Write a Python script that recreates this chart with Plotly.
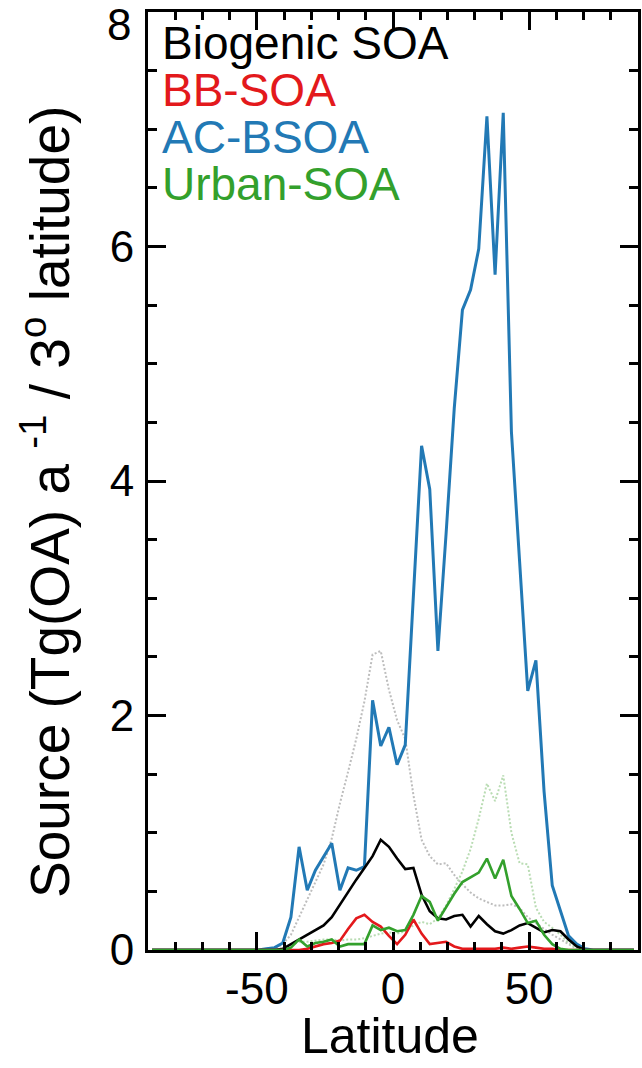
import plotly.graph_objects as go

# Latitude band centres (3 degree bands)
lat = [-88.5, -85.5, -82.5, -79.5, -76.5, -73.5, -70.5, -67.5, -64.5, -61.5,
       -58.5, -55.5, -52.5, -49.5, -46.5, -43.5, -40.5, -37.5, -34.5, -31.5,
       -28.5, -25.5, -22.5, -19.5, -16.5, -13.5, -10.5, -7.5, -4.5, -1.5,
       1.5, 4.5, 7.5, 10.5, 13.5, 16.5, 19.5, 22.5, 25.5, 28.5,
       31.5, 34.5, 37.5, 40.5, 43.5, 46.5, 49.5, 52.5, 55.5, 58.5,
       61.5, 64.5, 67.5, 70.5, 73.5, 76.5, 79.5, 82.5, 85.5, 88.5]

biogenic = [0, 0, 0, 0, 0, 0, 0, 0, 0, 0,
            0, 0, 0, 0, 0, 0.0, 0.01, 0.05, 0.09, 0.13,
            0.17, 0.21, 0.28, 0.39, 0.50, 0.60, 0.70, 0.80, 0.94, 0.88,
            0.78, 0.69, 0.70, 0.47, 0.33, 0.27, 0.26, 0.29, 0.30, 0.20,
            0.29, 0.22, 0.16, 0.14, 0.17, 0.21, 0.23, 0.19, 0.15, 0.17,
            0.16, 0.09, 0.03, 0.0, 0, 0, 0, 0, 0, 0]

bb_soa = [0, 0, 0, 0, 0, 0, 0, 0, 0, 0,
          0, 0, 0, 0, 0, 0, 0, 0.0, 0.0, 0.01,
          0.03, 0.05, 0.06, 0.08, 0.18, 0.27, 0.30, 0.24, 0.20, 0.12,
          0.05, 0.13, 0.26, 0.14, 0.05, 0.06, 0.07, 0.03, 0.01, 0.01,
          0.01, 0.01, 0.01, 0.02, 0.01, 0.02, 0.03, 0.02, 0.01, 0.01,
          0.0, 0, 0, 0, 0, 0, 0, 0, 0, 0]

ac_bsoa = [0, 0, 0, 0, 0, 0, 0, 0, 0, 0,
           0, 0, 0, 0.0, 0.01, 0.02, 0.06, 0.28, 0.88, 0.51,
           0.68, 0.80, 0.91, 0.51, 0.70, 0.68, 0.71, 2.13, 1.74, 1.90,
           1.58, 1.75, 3.0, 4.30, 3.93, 2.55, 3.55, 4.62, 5.46, 5.63,
           5.98, 7.11, 5.76, 7.14, 4.42, 3.3, 2.21, 2.47, 1.35, 0.55,
           0.33, 0.12, 0.05, 0.01, 0, 0, 0, 0, 0, 0]

urban_soa = [0, 0, 0, 0, 0, 0, 0, 0, 0, 0,
             0, 0, 0, 0, 0, 0, 0.0, 0.02, 0.09, 0.03,
             0.06, 0.07, 0.09, 0.03, 0.05, 0.05, 0.05, 0.21, 0.17, 0.19,
             0.16, 0.17, 0.30, 0.46, 0.41, 0.25, 0.37, 0.48, 0.58, 0.62,
             0.66, 0.78, 0.61, 0.77, 0.46, 0.35, 0.23, 0.25, 0.13, 0.05,
             0.01, 0.0, 0, 0, 0, 0, 0, 0, 0, 0]

# Dotted reference curves
ref_gray = [0, 0, 0, 0, 0, 0, 0, 0, 0, 0,
            0, 0, 0, 0, 0.0, 0.01, 0.05, 0.13, 0.28, 0.43,
            0.58, 0.73, 0.95, 1.25, 1.52, 1.80, 2.12, 2.52, 2.55, 2.22,
            1.96, 1.80, 1.32, 0.94, 0.80, 0.73, 0.74, 0.64, 0.56, 0.49,
            0.44, 0.41, 0.38, 0.38, 0.39, 0.36, 0.28, 0.23, 0.18, 0.13,
            0.09, 0.05, 0.01, 0.0, 0, 0, 0, 0, 0, 0]

ref_green = [0, 0, 0, 0, 0, 0, 0, 0, 0, 0,
             0, 0, 0, 0, 0, 0.0, 0.01, 0.04, 0.07, 0.07,
             0.08, 0.09, 0.09, 0.08, 0.09, 0.09, 0.10, 0.12, 0.14, 0.15,
             0.14, 0.16, 0.21, 0.24, 0.22, 0.27, 0.38, 0.52, 0.67, 0.86,
             1.12, 1.42, 1.27, 1.49, 1.00, 0.74, 0.73, 0.36, 0.24, 0.19,
             0.13, 0.06, 0.02, 0.0, 0, 0, 0, 0, 0, 0]

x_tickvals = [-50, 0, 50]
x_ticktext = ["-50", "0", "50"]
y_tickvals = [0, 2, 4, 6, 8]
y_ticktext = ["0", "2", "4", "6", ""]
y_top_label = "8"

FONT = "Liberation Sans, Arial, Helvetica, sans-serif"
XR = [-90, 90]
YR = [0, 8]

fig = go.Figure()
fig.add_trace(go.Scatter(x=lat, y=ref_gray, mode="lines", hoverinfo="skip",
                         line=dict(color="#bdbdbd", width=2, dash="2px,2px")))
fig.add_trace(go.Scatter(x=lat, y=ref_green, mode="lines", hoverinfo="skip",
                         line=dict(color="#b9dcb3", width=2, dash="2px,2px")))
fig.add_trace(go.Scatter(x=lat, y=ac_bsoa, mode="lines",
                         line=dict(color="#2279b5", width=3)))
fig.add_trace(go.Scatter(x=lat, y=biogenic, mode="lines",
                         line=dict(color="black", width=2.6)))
fig.add_trace(go.Scatter(x=lat, y=bb_soa, mode="lines",
                         line=dict(color="#e3191c", width=2.6)))
fig.add_trace(go.Scatter(x=lat, y=urban_soa, mode="lines",
                         line=dict(color="#33a02c", width=2.6)))
# empty traces registering the overlay axes that carry the extra tick sets
for k in (2, 3, 4):
    fig.add_trace(go.Scatter(x=[None], y=[None], xaxis=f"x{k}", yaxis=f"y{k}",
                             mode="lines", hoverinfo="skip", showlegend=False))

base = dict(showline=True, linecolor="black", linewidth=3, mirror=False,
            ticks="inside", tickwidth=3, tickcolor="black",
            showgrid=False, zeroline=False, automargin=False, fixedrange=True,
            tickfont=dict(family=FONT, size=44, color="black"))


def over(**kw):
    d = dict(base)
    d.update(showticklabels=False)
    d.update(kw)
    return d


fig.update_layout(
    template="none",
    width=642, height=1068, showlegend=False,
    plot_bgcolor="white", paper_bgcolor="white",
    margin=dict(l=148, r=4, t=12, b=118),
    xaxis=dict(base, range=XR, side="bottom", tickmode="array", tickvals=x_tickvals,
               ticktext=x_ticktext, ticklen=18, ticklabelstandoff=-2),
    yaxis=dict(base, range=YR, side="left", tickmode="array", tickvals=y_tickvals,
               ticktext=y_ticktext, ticklen=18, ticklabelstandoff=2),
    # minor ticks bottom / left
    xaxis2=over(range=XR, overlaying="x", anchor="y2", side="bottom",
                tickmode="linear", tick0=0, dtick=10, ticklen=8),
    yaxis2=over(range=YR, overlaying="y", anchor="x2", side="left",
                tickmode="linear", tick0=0, dtick=0.5, ticklen=9),
    # major ticks top / right
    xaxis3=over(range=XR, overlaying="x", anchor="y3", side="top",
                tickmode="array", tickvals=x_tickvals, ticklen=18),
    yaxis3=over(range=YR, overlaying="y", anchor="x3", side="right",
                tickmode="array", tickvals=y_tickvals, ticklen=18),
    # minor ticks top / right
    xaxis4=over(range=XR, overlaying="x", anchor="y4", side="top",
                tickmode="linear", tick0=0, dtick=10, ticklen=8),
    yaxis4=over(range=YR, overlaying="y", anchor="x4", side="right",
                tickmode="linear", tick0=0, dtick=0.5, ticklen=9),
)

# top y label sits just inside the top edge, as in the original
fig.add_annotation(text=y_top_label, xref="paper", yref="y", x=(133 - 148) / 490, y=8,
                   xanchor="right", yanchor="top", yshift=14, showarrow=False,
                   font=dict(family=FONT, size=44, color="black"))

legend_items = [("Biogenic SOA", "black", 43),
                ("BB-SOA", "#e3191c", 90),
                ("AC-BSOA", "#2279b5", 137),
                ("Urban-SOA", "#33a02c", 184)]
for txt, col, ypix in legend_items:
    fig.add_annotation(text=txt, xref="paper", yref="paper",
                       x=(160 - 148) / 490, y=(950 - ypix) / 938,
                       xanchor="left", yanchor="middle", showarrow=False,
                       font=dict(family=FONT, size=46, color=col))

fig.add_annotation(text="Latitude", xref="paper", yref="paper",
                   x=(390 - 148) / 490, y=(950 - 1036) / 938, xanchor="center",
                   yanchor="middle", showarrow=False,
                   font=dict(family=FONT, size=50, color="black"))
fig.add_annotation(text="Source (Tg(OA) a <sup>-1</sup> / 3<sup>o</sup> latitude)",
                   xref="paper", yref="paper",
                   x=(46 - 148) / 490, y=(950 - 502) / 938, textangle=-90,
                   xanchor="center", yanchor="middle", showarrow=False,
                   font=dict(family=FONT, size=55, color="black"))

# remove the default page margin so the 642x1068 figure fills the window exactly
fig.write_html("out.html", config={"displayModeBar": False},
               post_script="document.body.style.margin='0px';"
                           "document.body.style.overflow='hidden';")
